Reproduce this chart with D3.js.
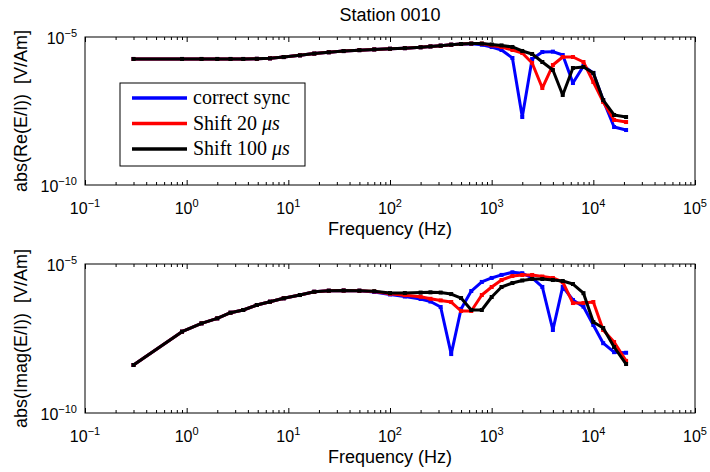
<!DOCTYPE html>
<html>
<head>
<meta charset="utf-8">
<script src="https://cdn.jsdelivr.net/npm/d3@7"></script>
<style>
  body { margin: 0; background: #fff; }
  svg { display: block; }
</style>
</head>
<body>
<script>
// frequencies (Hz), shared by every curve
const freqs = [0.3, 0.9, 1.4, 2, 2.7, 3.6, 4.9, 6.6, 9, 13, 18, 25, 35, 50, 70, 100, 140, 200, 250,
  315, 400, 500, 630, 800, 1000, 1250, 1600, 2000, 2500, 3150, 4000, 5000, 6300, 8000, 10000, 12500, 16000, 21000]

// abs(Re(E/I))
const reSync = [1.81e-6, 1.81e-6, 1.81e-6, 1.81e-6, 1.81e-6, 1.81e-6, 1.83e-6, 1.9e-6, 2.1e-6, 2.4e-6, 2.75e-6, 3.05e-6, 3.35e-6, 3.6e-6, 3.8e-6, 4.0e-6, 4.2e-6, 4.5e-6, 4.8e-6,
  5.1e-6, 5.5e-6, 5.8e-6, 5.9e-6, 5.5e-6, 4.6e-6, 3.64e-6, 1.95e-6, 1.98e-8, 1.8e-6, 3.11e-6, 3.2e-6, 2.47e-6, 2.79e-7, 1.05e-6, 6.1e-7, 7.4e-8, 9.1e-9, 7.2e-9]
const reShift20 = [1.81e-6, 1.81e-6, 1.81e-6, 1.81e-6, 1.81e-6, 1.81e-6, 1.83e-6, 1.9e-6, 2.1e-6, 2.4e-6, 2.75e-6, 3.05e-6, 3.35e-6, 3.6e-6, 3.8e-6, 4.0e-6, 4.2e-6, 4.5e-6, 4.8e-6,
  5.1e-6, 5.5e-6, 5.8e-6, 6.0e-6, 6.0e-6, 5.2e-6, 4.6e-6, 3.64e-6, 2.88e-6, 1.32e-6, 1.89e-7, 1.13e-6, 2.11e-6, 2.11e-6, 1.43e-6, 3.02e-7, 6.4e-8, 1.57e-8, 1.34e-8]
const reShift100 = [1.81e-6, 1.81e-6, 1.81e-6, 1.81e-6, 1.81e-6, 1.81e-6, 1.83e-6, 1.9e-6, 2.1e-6, 2.4e-6, 2.75e-6, 3.05e-6, 3.35e-6, 3.6e-6, 3.8e-6, 4.0e-6, 4.2e-6, 4.5e-6, 4.8e-6,
  5.1e-6, 5.5e-6, 5.8e-6, 6.0e-6, 6.0e-6, 5.6e-6, 5.2e-6, 4.6e-6, 3.37e-6, 2.67e-6, 1.43e-6, 7.7e-7, 1.1e-7, 8.97e-7, 9.7e-7, 6.1e-7, 7.4e-8, 2.32e-8, 1.98e-8]

// abs(Imag(E/I))
const imSync = [4.08e-9, 5.37e-8, 1.02e-7, 1.5e-7, 2.32e-7, 2.86e-7, 4.21e-7, 5.43e-7, 7.06e-7, 9.1e-7, 1.17e-6, 1.27e-6, 1.29e-6, 1.27e-6,
  1.15e-6, 9.5e-7, 8.1e-7, 6.7e-7, 5.5e-7, 3.6e-7, 9.5e-9, 3.1e-7, 1.24e-6, 2.5e-6, 3.4e-6, 4.3e-6, 5.26e-6, 4.9e-6, 3.4e-6, 1.7e-6, 6.1e-8, 1.73e-6, 6.2e-7, 3.7e-7, 9.0e-8, 2.2e-8, 1.1e-8, 1.05e-8]
const imShift20 = [4.08e-9, 5.37e-8, 1.02e-7, 1.5e-7, 2.32e-7, 2.86e-7, 4.21e-7, 5.43e-7, 7.06e-7, 9.1e-7, 1.17e-6, 1.27e-6, 1.29e-6, 1.27e-6,
  1.2e-6, 1.0e-6, 9.0e-7, 8.0e-7, 6.8e-7, 6.0e-7, 5.3e-7, 2.65e-7, 2.65e-7, 9.1e-7, 1.69e-6, 2.9e-6, 3.96e-6, 4.28e-6, 4.28e-6, 3.8e-6, 3.39e-6, 2.49e-6, 4.9e-7, 4.9e-7, 5.3e-7, 6.1e-8, 2.4e-8, 5.6e-9]
const imShift100 = [4.08e-9, 5.37e-8, 1.02e-7, 1.5e-7, 2.32e-7, 2.86e-7, 4.21e-7, 5.43e-7, 7.06e-7, 9.1e-7, 1.17e-6, 1.27e-6, 1.29e-6, 1.27e-6,
  1.22e-6, 1.06e-6, 1.06e-6, 1.1e-6, 1.12e-6, 1.1e-6, 9.8e-7, 7.2e-7, 2.86e-7, 2.86e-7, 7.8e-7, 1.69e-6, 2.3e-6, 2.8e-6, 3.14e-6, 3.14e-6, 2.9e-6, 2.69e-6, 2.13e-6, 1.05e-6, 1.13e-7, 7.1e-8, 1.64e-8, 4.4e-9]

const seriesNames = ['correct sync', 'Shift 20 μs', 'Shift 100 μs']
const seriesColors = ['#0000ff', '#ff0000', '#000000']
const xDecades = [-1, 0, 1, 2, 3, 4, 5]
const yDecades = [-5, -10]

const width = 710, height = 472
const left = 85, right = 695

const svg = d3.select('body')
  .append('svg')
  .attr('width', width)
  .attr('height', height)
  .style('font-family', '"Liberation Sans", Arial, Helvetica, sans-serif')

const x = d3.scaleLog()
  .domain([1e-1, 1e5])
  .range([left, right])

// minor ticks 2..9 in each decade
const minorTicks = []
xDecades.slice(0, -1).forEach(e => {
  for (let k = 2; k <= 9; k++) minorTicks.push(k * Math.pow(10, e))
})

const powLabel = (sel, exp) => {
  sel.append('tspan').text('10')
  sel.append('tspan')
    .attr('dy', -7)
    .style('font-size', '11px')
    .text(String(exp).replace('-', '\u2212'))
}

function drawPanel(top, bottom, label, data) {
  const y = d3.scaleLog()
    .domain([1e-10, 1e-5])
    .range([bottom, top])
  const g = svg.append('g')

  // ticks inside, mirrored top and bottom
  g.append('g')
    .attr('transform', `translate(0, ${bottom})`)
    .call(d3.axisBottom(x).tickValues(xDecades.map(e => Math.pow(10, e))).tickSize(-5).tickFormat(''))
  g.append('g')
    .attr('transform', `translate(0, ${bottom})`)
    .call(d3.axisBottom(x).tickValues(minorTicks).tickSize(-3).tickFormat(''))
  g.append('g')
    .attr('transform', `translate(0, ${top})`)
    .call(d3.axisTop(x).tickValues(xDecades.map(e => Math.pow(10, e))).tickSize(-5).tickFormat(''))
  g.append('g')
    .attr('transform', `translate(0, ${top})`)
    .call(d3.axisTop(x).tickValues(minorTicks).tickSize(-3).tickFormat(''))
  g.selectAll('.domain').remove()
  g.selectAll('.tick line').attr('stroke', '#000')

  g.append('rect')
    .attr('x', left)
    .attr('y', top)
    .attr('width', right - left)
    .attr('height', bottom - top)
    .attr('fill', 'none')
    .attr('stroke', '#000')
    .attr('stroke-width', 1)

  // tick labels
  g.selectAll('.xlab').data(xDecades).enter()
    .append('text')
    .attr('x', d => x(Math.pow(10, d)))
    .attr('y', bottom + 29)
    .attr('text-anchor', 'middle')
    .style('font-size', '16px')
    .each(function (d) { powLabel(d3.select(this), d) })
  g.selectAll('.ylab').data(yDecades).enter()
    .append('text')
    .attr('x', 77)
    .attr('y', d => y(Math.pow(10, d)) + 7)
    .attr('text-anchor', 'end')
    .style('font-size', '16px')
    .each(function (d) { powLabel(d3.select(this), d) })

  g.append('text')
    .attr('x', (left + right) / 2)
    .attr('y', bottom + 50)
    .attr('text-anchor', 'middle')
    .style('font-size', '18px')
    .text('Frequency (Hz)')
  g.append('text')
    .attr('transform', `translate(27, ${(top + bottom) / 2}) rotate(-90)`)
    .attr('text-anchor', 'middle')
    .style('font-size', '18px')
    .style('white-space', 'pre')
    .text(label)

  const line = d3.line()
    .x((d, i) => x(freqs[i]))
    .y(d => y(d))

  data.forEach((vals, k) => {
    g.append('path')
      .attr('d', line(vals))
      .attr('fill', 'none')
      .attr('stroke', seriesColors[k])
      .attr('stroke-width', 3)
      .attr('stroke-linejoin', 'round')
    g.append('g').selectAll('rect').data(vals).enter()
      .append('rect')
      .attr('x', (d, i) => x(freqs[i]) - 2)
      .attr('y', d => y(d) - 2)
      .attr('width', 4)
      .attr('height', 4)
      .attr('fill', seriesColors[k])
  })
}

drawPanel(37, 185, 'abs(Re(E/I))  [V/Am]', [reSync, reShift20, reShift100])
drawPanel(264, 413, 'abs(Imag(E/I))  [V/Am]', [imSync, imShift20, imShift100])

svg.append('text')
  .attr('x', (left + right) / 2)
  .attr('y', 21)
  .attr('text-anchor', 'middle')
  .style('font-size', '18px')
  .text('Station 0010')

// legend
const legend = svg.append('g')
legend.append('rect')
  .attr('x', 120)
  .attr('y', 83)
  .attr('width', 185)
  .attr('height', 83)
  .attr('fill', '#fff')
  .attr('stroke', '#000')
const rowY = d3.scalePoint().domain(seriesNames).range([98, 149])
seriesNames.forEach((name, k) => {
  legend.append('line')
    .attr('x1', 132).attr('x2', 187)
    .attr('y1', rowY(name)).attr('y2', rowY(name))
    .attr('stroke', seriesColors[k])
    .attr('stroke-width', 3.5)
  const t = legend.append('text')
    .attr('x', 193)
    .attr('y', rowY(name) + 6)
    .style('font-family', '"Liberation Serif", "Times New Roman", serif')
    .style('font-size', '20px')
  const parts = name.split('μ')
  t.append('tspan').text(parts[0])
  if (parts.length > 1) {
    t.append('tspan').style('font-style', 'italic').text('μ')
    t.append('tspan').style('font-style', 'italic').text(parts[1])
  }
})
</script>
</body>
</html>
